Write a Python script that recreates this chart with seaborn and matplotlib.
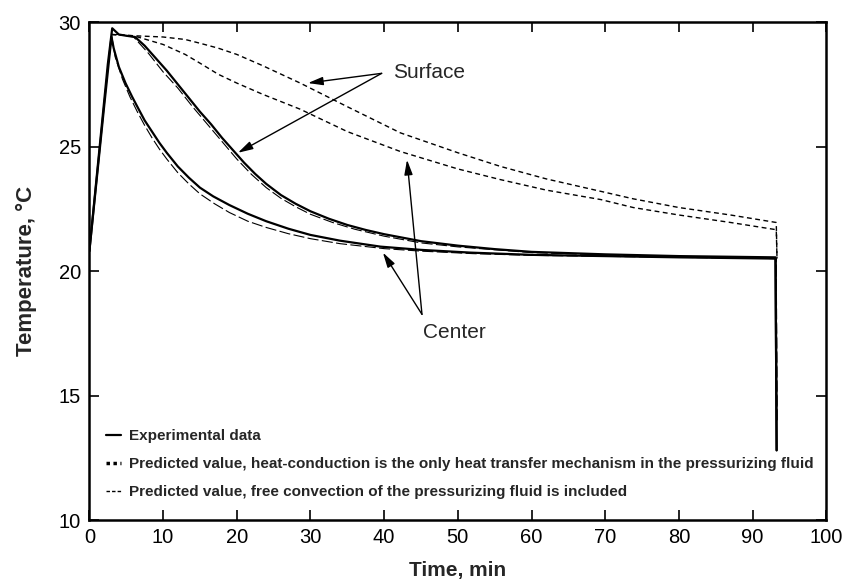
import matplotlib
matplotlib.use('Agg')
import matplotlib.pyplot as plt
import seaborn as sns
from matplotlib.lines import Line2D

# experimental data (solid)
t_exp_surf = [0, 0.5, 1, 1.5, 2, 2.5, 3.1, 4, 5, 6.2, 7.5, 9, 10.5, 12, 13.5, 15, 16.5, 18, 19.5,
              21, 22.5, 24, 26, 28, 30, 32.5, 35, 37.5, 40, 45, 50, 55, 60, 70, 80, 93.1, 93.25]
T_exp_surf = [20.8, 22.3, 23.8, 25.3, 26.8, 28.3, 29.75, 29.5, 29.45, 29.4, 29.05, 28.55, 28.05, 27.5,
              26.95, 26.4, 25.9, 25.35, 24.85, 24.35, 23.9, 23.5, 23.05, 22.7, 22.4, 22.1, 21.85,
              21.65, 21.48, 21.2, 21.02, 20.88, 20.77, 20.67, 20.6, 20.55, 12.8]

t_exp_cent = [0, 1, 2, 3.0, 3.3, 4, 4.9, 5.8, 6.6, 7.5, 8.5, 9.5, 10.5, 12, 13.5, 15, 16.8, 19, 21.5,
              24, 27, 30, 34, 39.5, 45, 51.7, 60, 70, 80, 93.1, 93.25]
T_exp_cent = [20.8, 23.7, 26.6, 29.4, 28.95, 28.2, 27.55, 27.0, 26.55, 26.05, 25.6, 25.15, 24.75, 24.2,
              23.75, 23.35, 23.0, 22.65, 22.3, 22.0, 21.7, 21.45, 21.22, 20.98, 20.85, 20.74, 20.65,
              20.6, 20.55, 20.5, 12.8]

# predicted, heat conduction only (short dashes)
t_cond = [3, 6, 10, 13, 15, 17.5, 20, 23.5, 28.6, 35, 42.2, 50, 55.8, 62, 69.4, 73.8, 80, 87, 93.2, 93.3]
T_cond_surf = [29.5, 29.45, 29.4, 29.3, 29.15, 28.95, 28.7, 28.25, 27.55, 26.6, 25.55, 24.75, 24.2,
               23.7, 23.2, 22.9, 22.55, 22.25, 21.95, 20.5]
T_cond_cent = [29.5, 29.45, 29.1, 28.7, 28.35, 27.9, 27.55, 27.1, 26.5, 25.6, 24.8, 24.1, 23.67,
               23.25, 22.87, 22.55, 22.25, 21.95, 21.66, 20.5]

# predicted, free convection included (thin long dashes)
t_conv_surf = [3, 4, 6, 8, 10, 12, 14, 16, 18, 20, 22, 24, 26, 28, 30, 33, 36, 40, 45, 50, 60, 75,
               93.2, 93.3]
T_conv_surf = [29.5, 29.5, 29.4, 28.75, 28.0, 27.35, 26.6, 25.9, 25.2, 24.5, 23.88, 23.35, 22.92,
               22.58, 22.28, 21.95, 21.68, 21.4, 21.13, 20.97, 20.74, 20.6, 20.5, 14.0]
t_conv_cent = [3, 3.5, 4.5, 5.5, 6.5, 7.5, 8.5, 9.5, 10.5, 12, 13.5, 15, 17, 19, 21.5, 24, 27, 30, 34,
               40, 45, 52, 60, 75, 93.2, 93.3]
T_conv_cent = [29.5, 28.6, 27.7, 27.0, 26.4, 25.85, 25.35, 24.9, 24.5, 23.95, 23.5, 23.1, 22.7, 22.35,
               22.0, 21.75, 21.5, 21.3, 21.1, 20.9, 20.8, 20.7, 20.63, 20.57, 20.5, 14.0]

legend_labels = ['Experimental data',
                 'Predicted value, heat-conduction is the only heat transfer mechanism in the pressurizing fluid',
                 'Predicted value, free convection of the pressurizing fluid is included']

sns.set_style('ticks')
plt.rcParams['font.family'] = ['Liberation Sans', 'DejaVu Sans']

fig = plt.figure(figsize=(8.56, 5.88), dpi=100)
ax = fig.add_axes([0.1044, 0.1156, 0.861, 0.8469])

kw = dict(ax=ax, color='black', sort=False, estimator=None)
sns.lineplot(x=t_cond, y=T_cond_surf, lw=1.0, linestyle=(0, (3.5, 2.5)), **kw)
sns.lineplot(x=t_cond, y=T_cond_cent, lw=1.0, linestyle=(0, (3.5, 2.5)), **kw)
sns.lineplot(x=t_conv_surf, y=T_conv_surf, lw=0.8, linestyle=(0, (10, 3)), **kw)
sns.lineplot(x=t_conv_cent, y=T_conv_cent, lw=0.8, linestyle=(0, (10, 3)), **kw)
sns.lineplot(x=t_exp_surf, y=T_exp_surf, lw=1.6, **kw)
sns.lineplot(x=t_exp_cent, y=T_exp_cent, lw=1.6, **kw)

ax.set_xlim(0, 100)
ax.set_ylim(10, 30)
ax.set_xticks(range(0, 101, 10))
ax.set_yticks(range(10, 31, 5))
ax.tick_params(direction='in', length=7, width=1.2, top=True, right=True,
               labelsize=14.5, pad=6, colors='black')
for s in ax.spines.values():
    s.set_linewidth(1.8)
    s.set_color('black')

ax.set_xlabel('Time, min', fontsize=15, fontweight='bold', va='top')
ax.xaxis.set_label_coords(0.5, -0.082)
ax.set_ylabel('Temperature, \u00b0C', fontsize=16, fontweight='bold')
ax.yaxis.set_label_coords(-0.071, 0.5)

# annotations
arrow = dict(arrowstyle='-|>,head_length=0.9,head_width=0.25', color='black', lw=1.0,
             shrinkA=0, shrinkB=0)
ax.text(41.2, 27.98, 'Surface', fontsize=15, ha='left', va='center')
ax.annotate('', xy=(29.66, 27.55), xytext=(39.66, 27.94), arrowprops=arrow)
ax.annotate('', xy=(20.16, 24.75), xytext=(39.66, 27.94), arrowprops=arrow)
ax.text(45.3, 17.9, 'Center', fontsize=15, ha='left', va='top')
ax.annotate('', xy=(39.83, 20.74), xytext=(45.13, 18.26), arrowprops=arrow)
ax.annotate('', xy=(43.1, 24.47), xytext=(45.13, 18.26), arrowprops=arrow)

handles = [Line2D([], [], color='black', lw=1.6),
           Line2D([], [], color='black', lw=2.5, linestyle=(0, (1, 1))),
           Line2D([], [], color='black', lw=1.0, linestyle=(0, (2.5, 1.5)))]
ax.legend(handles, legend_labels, loc='lower left', bbox_to_anchor=(0.022, 0.042),
          frameon=False, prop=dict(size=11, weight='bold'), handlelength=1.0,
          handletextpad=0.55, labelspacing=0.92, borderpad=0, borderaxespad=0)

fig.savefig('out.png', dpi=100)
